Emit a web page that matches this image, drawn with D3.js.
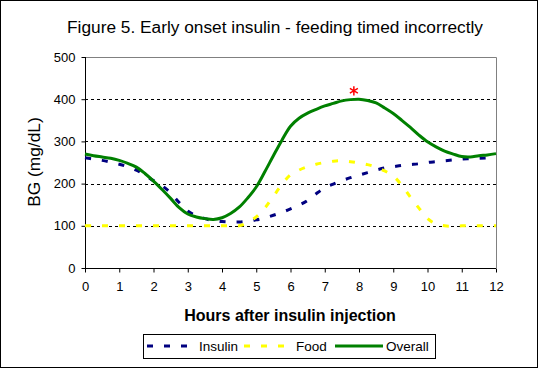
<!DOCTYPE html>
<html><head><meta charset="utf-8">
<script src="https://cdn.jsdelivr.net/npm/d3@7"></script>
<style>
html,body{margin:0;padding:0;background:#fff;}
svg{display:block;font-family:Arial,"Liberation Sans",sans-serif;}
</style></head>
<body><svg id="c" width="538" height="369"></svg>
<script>
const titleText = "Figure 5. Early onset insulin - feeding timed incorrectly";
const xTitle = "Hours after insulin injection";
const yTitle = "BG (mg/dL)";
const hours = [0,0.25,0.5,0.75,1,1.25,1.5,1.75,2,2.25,2.5,2.75,3,3.25,3.5,3.75,4,4.25,4.5,4.75,5,5.25,5.5,5.75,6,
  6.25,6.5,6.75,7,7.25,7.5,7.75,8,8.25,8.5,8.75,9,9.25,9.5,9.75,10,10.25,10.5,10.75,11,11.25,11.5,11.75,12];
const insulin = [261,258,255,251,246,240,232,220,207,195,178,155,135,124,117,112,110,109,109,111,114,119,125,132,140,
  149,160,176,190,199,207,214,220,226,232,237,240,243,245,247,250,252,254,256,258,259,260,261,262];
const food = [100,100,100,100,100,100,100,100,100,100,100,100,100,100,100,100,100,100,100,108,121,142,170,198,221,
  232,240,246,250,253,254,252,249,245,239,230,218,196,168,142,117,104,100,99,100,100,100,100,100];
const overall = [270,266,263,260,255,248,239,224,206,186,165,143,128,121,117,115,119,129,144,166,192,228,266,303,336,
  355,367,376,384,390,396,399,400,397,391,379,366,350,333,315,299,287,277,270,264,263,266,268,271];
const xTicks = [0,1,2,3,4,5,6,7,8,9,10,11,12];
const yTicks = [0,100,200,300,400,500];
const gridValues = [100,200,300,400];
const seriesNames = ["Insulin","Food","Overall"];
const seriesColors = ["#000080","#ffff00","#008000"];
const peakMark = {hour:7.85, value:420};

const svg = d3.select("#c");
const L=85, R=496, T=57, B=268;
const x = d3.scaleLinear().domain([0,12]).range([L,R]);
const y = d3.scaleLinear().domain([0,500]).range([B,T]);

// outer frame
svg.append("rect").attr("x",0.5).attr("y",0.5).attr("width",537).attr("height",367)
  .attr("fill","#fff").attr("stroke","#000");

// title
svg.append("text").attr("x",275).attr("y",33).attr("text-anchor","middle")
  .attr("font-size","17.3px").text(titleText);

// plot border (top/right gray)
svg.append("path").attr("d",`M${L},${T+0.5}H${R+0.5}V${B}`).attr("fill","none")
  .attr("stroke","#808080").attr("stroke-width",1);

// gridlines
svg.append("g").selectAll("line").data(gridValues).join("line")
  .attr("x1",L).attr("x2",R).attr("y1",d=>Math.round(y(d))+0.5).attr("y2",d=>Math.round(y(d))+0.5)
  .attr("stroke","#000").attr("stroke-dasharray","3,3");

// axes
const yAxis = svg.append("g").attr("transform",`translate(${L+0.5},0)`)
  .call(d3.axisLeft(y).tickValues(yTicks).tickSize(4).tickPadding(6).tickSizeOuter(0));
const xAxis = svg.append("g").attr("transform",`translate(0,${B+0.5})`)
  .call(d3.axisBottom(x).tickValues(xTicks).tickSize(4).tickPadding(9).tickSizeOuter(0));
[yAxis,xAxis].forEach(a=>{
  a.selectAll("text").attr("font-size","13px").attr("font-family","Arial,'Liberation Sans',sans-serif").attr("fill","#000");
  a.selectAll("line,path").attr("stroke","#000");
});
yAxis.select(".domain").attr("d",`M0,${T}V${B}`);
xAxis.select(".domain").attr("d",`M${L},0H${R}`);

// axis titles
svg.append("text").attr("x",290).attr("y",321).attr("text-anchor","middle")
  .attr("font-size","16px").attr("font-weight","bold").text(xTitle);
svg.append("text").attr("transform","translate(40,162) rotate(-90)").attr("text-anchor","middle")
  .attr("font-size","17.3px").text(yTitle);

// series
const line = d3.line().x((d,i)=>x(hours[i])).y(d=>y(d)).curve(d3.curveCatmullRom.alpha(0.5));
const series = [insulin, food, overall];
const dashes = ["6,11","6,11",null];
series.forEach((s,k)=>{
  svg.append("path").attr("d",line(s)).attr("fill","none")
    .attr("stroke",seriesColors[k]).attr("stroke-width",3)
    .attr("stroke-dasharray",dashes[k]);
});

// peak asterisk
svg.append("path").attr("transform",`translate(${x(peakMark.hour)},${y(peakMark.value)})`)
  .attr("d",d3.symbol(d3.symbolAsterisk,60)()).attr("fill","none").attr("stroke","#ff0000").attr("stroke-width",1.5);

// legend
const lg = svg.append("g");
lg.append("rect").attr("x",143.5).attr("y",334.5).attr("width",292).attr("height",24)
  .attr("fill","#fff").attr("stroke","#000");
const lgItems = [{x1:147,x2:189,tx:199},{x1:244,x2:286,tx:296},{x1:335,x2:383,tx:386}];
lgItems.forEach((it,k)=>{
  lg.append("line").attr("x1",it.x1).attr("x2",it.x2).attr("y1",346).attr("y2",346)
    .attr("stroke",seriesColors[k]).attr("stroke-width",3).attr("stroke-dasharray",dashes[k]);
  lg.append("text").attr("x",it.tx).attr("y",351).attr("font-size","13.5px").text(seriesNames[k]);
});
</script></body></html>
